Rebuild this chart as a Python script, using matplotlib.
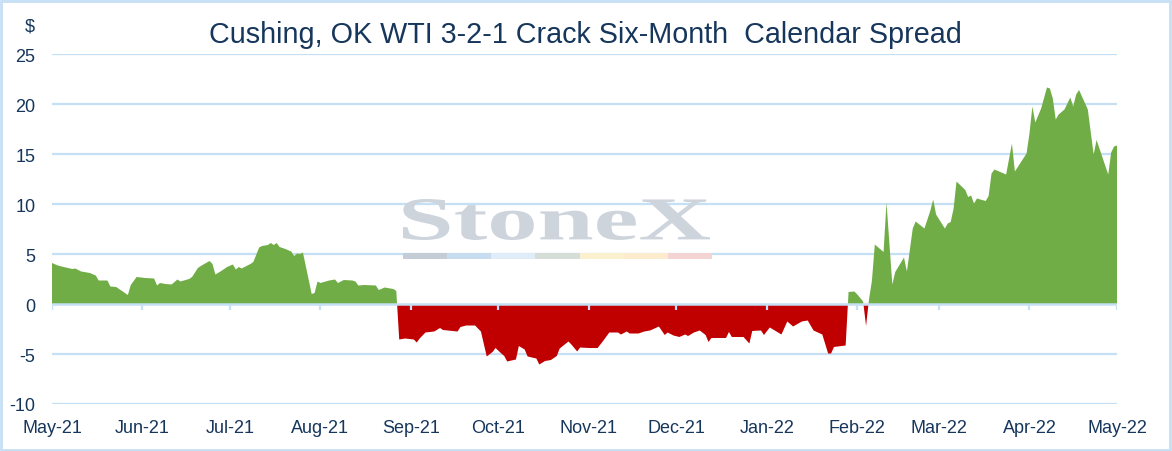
import matplotlib
matplotlib.use("Agg")
import matplotlib.pyplot as plt
import matplotlib.dates as mdates
import numpy as np
import pandas as pd
from matplotlib.patches import PathPatch, Rectangle
from matplotlib.textpath import TextPath
from matplotlib.font_manager import FontProperties
from matplotlib.transforms import Affine2D, IdentityTransform

# Cushing WTI 3-2-1 crack, six-month calendar spread ($)
dates = [
    "2021-05-01", "2021-05-03", "2021-05-05", "2021-05-08", "2021-05-09",
    "2021-05-11", "2021-05-14", "2021-05-16", "2021-05-17", "2021-05-20",
    "2021-05-21", "2021-05-23", "2021-05-25", "2021-05-27", "2021-05-28",
    "2021-05-30", "2021-06-02", "2021-06-05", "2021-06-06", "2021-06-07",
    "2021-06-09", "2021-06-11", "2021-06-13", "2021-06-14", "2021-06-17",
    "2021-06-18", "2021-06-20", "2021-06-21", "2021-06-24", "2021-06-25",
    "2021-06-26", "2021-06-28", "2021-06-30", "2021-07-02", "2021-07-03",
    "2021-07-04", "2021-07-05", "2021-07-08", "2021-07-09", "2021-07-11",
    "2021-07-12", "2021-07-14", "2021-07-15", "2021-07-16", "2021-07-17",
    "2021-07-18", "2021-07-20", "2021-07-22", "2021-07-23", "2021-07-24",
    "2021-07-25", "2021-07-26", "2021-07-29", "2021-07-30", "2021-07-31",
    "2021-08-01", "2021-08-04", "2021-08-06", "2021-08-07", "2021-08-09",
    "2021-08-12", "2021-08-13", "2021-08-14", "2021-08-16", "2021-08-20",
    "2021-08-21", "2021-08-23", "2021-08-26", "2021-08-27", "2021-08-28",
    "2021-08-30", "2021-09-02", "2021-09-03", "2021-09-04", "2021-09-06",
    "2021-09-09", "2021-09-11", "2021-09-12", "2021-09-17", "2021-09-18",
    "2021-09-20", "2021-09-23", "2021-09-25", "2021-09-27", "2021-09-29",
    "2021-09-30", "2021-10-02", "2021-10-03", "2021-10-04", "2021-10-07",
    "2021-10-08", "2021-10-10", "2021-10-11", "2021-10-14", "2021-10-15",
    "2021-10-17", "2021-10-19", "2021-10-21", "2021-10-22", "2021-10-25",
    "2021-10-26", "2021-10-28", "2021-10-29", "2021-11-01", "2021-11-04",
    "2021-11-06", "2021-11-08", "2021-11-11", "2021-11-12", "2021-11-14",
    "2021-11-15", "2021-11-18", "2021-11-20", "2021-11-22", "2021-11-25",
    "2021-11-27", "2021-11-28", "2021-11-30", "2021-12-02", "2021-12-04",
    "2021-12-05", "2021-12-07", "2021-12-09", "2021-12-11", "2021-12-12",
    "2021-12-13", "2021-12-18", "2021-12-19", "2021-12-20", "2021-12-24",
    "2021-12-26", "2021-12-27", "2021-12-30", "2021-12-31", "2022-01-02",
    "2022-01-04", "2022-01-06", "2022-01-08", "2022-01-10", "2022-01-13",
    "2022-01-15", "2022-01-17", "2022-01-20", "2022-01-22", "2022-01-23",
    "2022-01-24", "2022-01-28", "2022-01-29", "2022-01-31", "2022-02-01",
    "2022-02-03", "2022-02-04", "2022-02-05", "2022-02-06", "2022-02-07",
    "2022-02-10", "2022-02-11", "2022-02-13", "2022-02-14", "2022-02-17",
    "2022-02-18", "2022-02-20", "2022-02-21", "2022-02-24", "2022-02-26",
    "2022-02-27", "2022-02-28", "2022-03-03", "2022-03-04", "2022-03-05",
    "2022-03-06", "2022-03-07", "2022-03-10", "2022-03-11", "2022-03-12",
    "2022-03-13", "2022-03-14", "2022-03-17", "2022-03-18", "2022-03-19",
    "2022-03-20", "2022-03-24", "2022-03-26", "2022-03-27", "2022-03-31",
    "2022-04-01", "2022-04-02", "2022-04-03", "2022-04-05", "2022-04-07",
    "2022-04-08", "2022-04-09", "2022-04-10", "2022-04-11", "2022-04-13",
    "2022-04-15", "2022-04-16", "2022-04-17", "2022-04-18", "2022-04-21",
    "2022-04-23", "2022-04-24", "2022-04-28", "2022-04-29", "2022-04-30",
    "2022-05-01",
]
spread = [
    4.1, 3.85, 3.7, 3.5, 3.55,
    3.25, 3.1, 2.85, 2.35, 2.35,
    1.75, 1.7, 1.3, 0.9, 1.9,
    2.7, 2.6, 2.55, 1.85, 2.1,
    2.0, 1.95, 2.45, 2.25, 2.5,
    2.7, 3.6, 3.8, 4.3, 4.0,
    2.95, 3.3, 3.7, 3.95, 3.45,
    3.7, 3.55, 4.0, 4.2, 5.65,
    5.8, 5.9, 6.1, 5.9, 6.1,
    5.7, 5.5, 5.25, 4.8, 5.05,
    5.0, 5.15, 1.0, 1.1, 2.25,
    2.1, 2.35, 2.45, 2.1, 2.4,
    2.35, 2.25, 1.85, 1.9, 1.85,
    1.4, 1.65, 1.5, 1.3, -3.55,
    -3.45, -3.55, -3.85, -3.45, -2.85,
    -2.75, -2.4, -2.6, -2.75, -2.3,
    -2.15, -2.15, -2.75, -5.25, -4.8,
    -4.4, -4.95, -5.2, -5.75, -5.55,
    -4.2, -4.55, -5.25, -5.45, -6.05,
    -5.7, -5.6, -5.2, -4.45, -3.75,
    -4.05, -4.75, -4.35, -4.4, -4.4,
    -3.65, -2.85, -2.85, -3.05, -2.75,
    -2.95, -2.95, -2.75, -2.65, -2.25,
    -3.1, -2.85, -3.15, -3.3, -3.05,
    -3.2, -2.85, -2.65, -3.1, -3.8,
    -3.4, -3.4, -2.8, -3.3, -3.3,
    -3.95, -2.7, -2.65, -3.1, -2.35,
    -2.7, -3.05, -1.75, -2.25, -1.75,
    -1.65, -2.65, -3.05, -4.95, -4.95,
    -4.3, -4.15, 1.2, 1.25, 0.95,
    0.25, -2.2, 0.45, 2.3, 5.95,
    5.2, 10.15, 1.95, 3.2, 4.65,
    3.25, 7.55, 8.25, 7.55, 9.3,
    10.45, 8.95, 7.55, 8.05, 8.2,
    9.55, 12.25, 11.4, 10.7, 10.85,
    10.05, 10.55, 10.3, 10.8, 13.05,
    13.45, 12.95, 16.05, 13.25, 15.05,
    17.05, 19.75, 18.15, 19.55, 21.65,
    21.55, 20.55, 18.45, 18.95, 19.45,
    20.65, 19.75, 20.95, 21.4, 19.45,
    14.95, 16.4, 12.95, 15.15, 15.75,
    15.85,
]
title = "Cushing, OK WTI 3-2-1 Crack Six-Month  Calendar Spread"
y_ticks = [-10, -5, 0, 5, 10, 15, 20, 25]

GREEN = "#70AD47"
RED = "#C00000"
GRID = "#C5DFF5"
TEXT = "#16365C"

plt.rcParams["font.family"] = ["Liberation Sans", "DejaVu Sans"]
plt.rcParams["axes.unicode_minus"] = False

x = pd.to_datetime(dates)
y = np.array(spread)

fig = plt.figure(figsize=(11.72, 4.52), dpi=100)
ax = fig.add_axes([52 / 1172, 47 / 452, 1065 / 1172, 350 / 452])

# watermark logo (decoration behind the data)
fp = FontProperties(family="Liberation Serif", weight="bold")
tp = TextPath((0, 0), "StoneX", size=100, prop=fp)
ext = tp.get_extents()
x0, x1, ytop, ybot = 403, 710, 452 - 200, 452 - 241
sx = (x1 - x0) / ext.width
sy = (ytop - ybot) / ext.height
tr = Affine2D().translate(-ext.x0, -ext.y0).scale(sx, sy).translate(x0, ybot)
fig.patches.append(PathPatch(tr.transform_path(tp), transform=IdentityTransform(),
                             facecolor="#CDD4DC", edgecolor="none", zorder=0))
stripe_colors = ["#C4CDD6", "#C8DCEF", "#E0ECF7", "#D4DDD6",
                 "#FBF1CE", "#FCEBCD", "#F4D3D3"]
sw = (712 - 403) / len(stripe_colors)
for i, c in enumerate(stripe_colors):
    fig.patches.append(Rectangle((403 + i * sw, 452 - 260), sw, 6,
                                 transform=IdentityTransform(),
                                 facecolor=c, edgecolor="none", zorder=0))
ax.set_facecolor("none")

ax.fill_between(x, y, 0, where=y >= 0, interpolate=True,
                color=GREEN, lw=0, zorder=2)
ax.fill_between(x, y, 0, where=y <= 0, interpolate=True,
                color=RED, lw=0, zorder=2)

for v in y_ticks:
    if v != 0:
        ax.axhline(v, color=GRID, lw=1.6, zorder=1)
ax.axhline(0, color=GRID, lw=1.8, zorder=3)

months = pd.date_range("2021-05-01", "2022-05-01", freq="MS")
ax.vlines(months, -0.6, 0, color=GRID, lw=1.6, zorder=3)

ax.set_xlim(months[0], months[-1])
ax.set_ylim(-10, 25)
ax.set_yticks(y_ticks)
ax.set_xticks(months)
ax.xaxis.set_major_formatter(mdates.DateFormatter("%b-%y"))
ax.tick_params(axis="both", length=0, labelsize=13, labelcolor=TEXT)
ax.tick_params(axis="y", pad=12)
ax.tick_params(axis="x", pad=11)
for s in ax.spines.values():
    s.set_visible(False)

fig.text(30 / 1172, 1 - 27 / 452, "$", fontsize=13, color=TEXT,
         ha="center", va="center")
fig.text(585 / 1172, 1 - 35 / 452, title, fontsize=20.7, color=TEXT,
         ha="center", va="center")

fig.patches.append(Rectangle((1, 1), 1169, 449, transform=IdentityTransform(),
                             facecolor="none", edgecolor=GRID, lw=2, zorder=5))

fig.savefig("out.png", dpi=100)
